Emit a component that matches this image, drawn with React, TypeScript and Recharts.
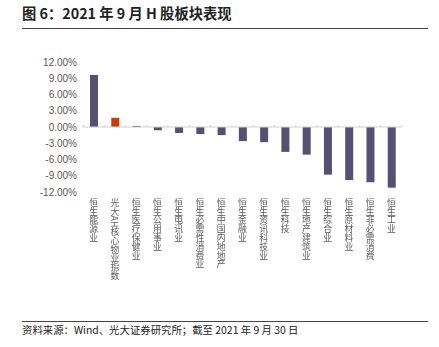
import React from 'react';
import { BarChart, Bar, XAxis, YAxis, Cell, ReferenceLine } from 'recharts';

const categories = [
  '恒生能源业', '光大AH核心物业指数', '恒生医疗保健业', '恒生公用事业', '恒生电讯业',
  '恒生必需性消费业', '恒生中国内地地产', '恒生金融业', '恒生资讯科技业', '恒生科技',
  '恒生地产建筑业', '恒生综合业', '恒生原材料业', '恒生非必需消费', '恒生工业',
];
const values = [9.6, 1.7, 0.2, -0.6, -1.1, -1.3, -1.5, -2.6, -2.8, -4.6, -5.1, -8.8, -9.8, -10.2, -11.2];
const highlight = '光大AH核心物业指数';
const yTicks = [12, 9, 6, 3, 0, -3, -6, -9, -12];

const data = categories.map((name, i) => ({ name, value: values[i] }));

const PURPLE = '#565074';
const ORANGE = '#cc3a0c';
const GRAY = '#595959';

const XTick = (props: any) => {
  const { x, y, payload } = props;
  return (
    <g opacity={0.99}>
      <text
        x={x}
        y={y - 2}
        fill={GRAY}
        fontSize={8.8}
        fontFamily="'Noto Sans CJK SC', sans-serif"
        style={{ writingMode: 'vertical-rl' as any, willChange: 'opacity' }}
      >
        {payload.value}
      </text>
    </g>
  );
};

const ZeroLine = (props: any) => {
  const { x1, y1, x2, y2 } = props;
  const n = categories.length;
  const step = (x2 - x1) / n;
  const ticks = [];
  for (let i = 0; i <= n; i++) {
    const tx = x1 + step * i;
    ticks.push(<line key={i} x1={tx} x2={tx} y1={y1 - 2} y2={y1} stroke="#d0d0d0" strokeWidth={1} />);
  }
  return (
    <g>
      <line x1={x1} y1={y1} x2={x2} y2={y2} stroke="#d0d0d0" strokeWidth={1} />
      {ticks}
    </g>
  );
};

export default function App() {
  return (
    <div style={{ position: 'absolute', left: 0, top: 0, width: 439, height: 347, background: '#fff' }}>
      <div
        style={{
          position: 'absolute', left: 22, top: 3, fontSize: 14.3, fontWeight: 'bold',
          fontFamily: "'Noto Sans CJK SC', sans-serif", color: '#222', lineHeight: '20px',
        }}
      >
        图 6：2021 年 9 月 H 股板块表现
      </div>
      <div style={{ position: 'absolute', left: 22, top: 28, width: 406, height: 1, background: '#444' }} />
      <div style={{ position: 'absolute', left: 0, top: 0 }}>
        <BarChart
          width={439}
          height={347}
          data={data}
          margin={{ top: 62, right: 37, bottom: 0, left: 0 }}
        >
          <YAxis
            type="number"
            domain={[-12, 12]}
            ticks={yTicks}
            width={83}
            tickSize={4}
            axisLine={false}
            tickLine={false}
            interval={0}
            tickFormatter={(v: number) => `${v.toFixed(2)}%`}
            tick={{ fill: GRAY, fontSize: 10, fontFamily: "'Liberation Sans', Arial, sans-serif" }}
          />
          <XAxis
            dataKey="name"
            axisLine={false}
            tickLine={false}
            interval={0}
            height={155}
            tick={<XTick />}
          />
          <ReferenceLine y={0} shape={<ZeroLine />} />
          <Bar dataKey="value" isAnimationActive={false} barSize={8}>
            {data.map((d) => (
              <Cell key={d.name} fill={d.name === highlight ? ORANGE : PURPLE} />
            ))}
          </Bar>
        </BarChart>
      </div>
      <div style={{ position: 'absolute', left: 22, top: 321, width: 406, height: 1, background: '#444' }} />
      <div
        style={{
          position: 'absolute', left: 22, top: 323, fontSize: 10.4,
          fontFamily: "'Noto Sans CJK SC', sans-serif", color: '#222', lineHeight: '14px',
        }}
      >
        资料来源：Wind、光大证券研究所；截至 2021 年 9 月 30 日
      </div>
    </div>
  );
}
